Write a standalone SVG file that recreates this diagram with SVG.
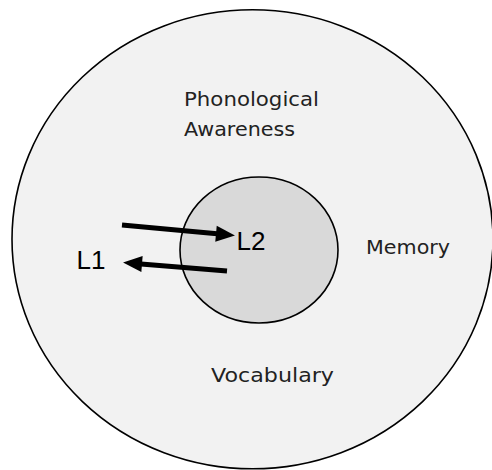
<svg xmlns="http://www.w3.org/2000/svg" width="492" height="470" viewBox="0 0 492 470">
<style>
.circle{stroke:#000;stroke-width:1.6}
.lbl{font-family:"DejaVu Sans","Liberation Sans",sans-serif;font-size:19px;fill:#222}
.big{font-family:"Liberation Sans",Arial,sans-serif;font-size:26px;fill:#000}
.arr{stroke:#000;stroke-width:5;fill:none}
</style>
<defs>
<marker id="ah" markerUnits="userSpaceOnUse" markerWidth="20" markerHeight="16" refX="1" refY="8" orient="auto" overflow="visible">
<path d="M0,0 L19,8 L0,16 Z" fill="#000"/>
</marker>
</defs>
<rect width="492" height="470" fill="#fff"/>
<g id="outer">
<ellipse class="circle" cx="252.5" cy="239.3" rx="240.5" ry="229.5" fill="#f2f2f2"/>
<text class="lbl" x="184" y="106" textLength="135" lengthAdjust="spacingAndGlyphs">Phonological</text>
<text class="lbl" x="184" y="136" textLength="111" lengthAdjust="spacingAndGlyphs">Awareness</text>
<text class="lbl" x="366" y="253.5" textLength="84" lengthAdjust="spacingAndGlyphs">Memory</text>
<text class="lbl" x="211" y="382" textLength="123" lengthAdjust="spacingAndGlyphs">Vocabulary</text>
</g>
<g id="inner">
<ellipse class="circle" cx="259" cy="250" rx="79" ry="73" fill="#d9d9d9"/>
<text class="big" x="236.5" y="249.5">L2</text>
</g>
<g id="l1">
<text class="big" x="76.5" y="268.5">L1</text>
</g>
<g id="connectors">
<line class="arr" x1="122" y1="225" x2="217" y2="233.8" marker-end="url(#ah)"/>
<line class="arr" x1="227" y1="271" x2="141" y2="264" marker-end="url(#ah)"/>
</g>
</svg>
